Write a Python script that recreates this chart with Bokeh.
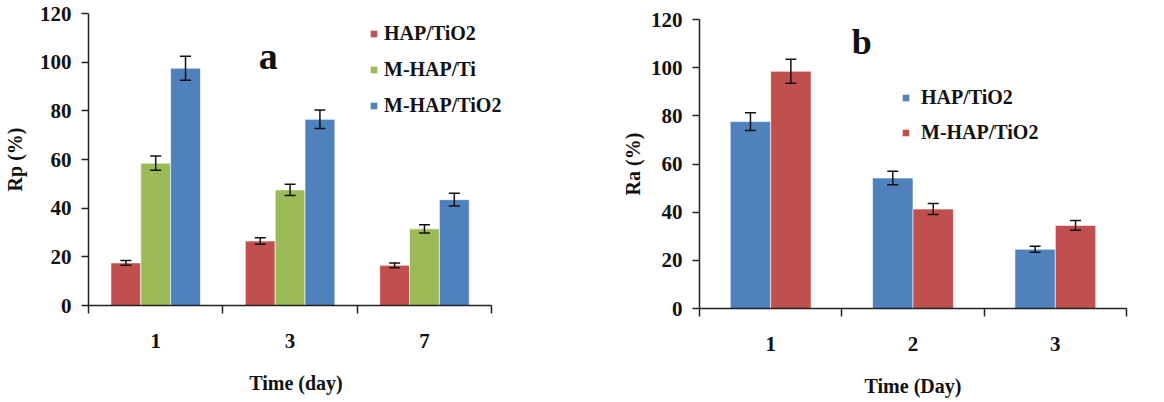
import numpy as np
from bokeh.plotting import figure
from bokeh.layouts import row, column
from bokeh.models import (Range1d, LinearAxis, FixedTicker, Whisker, TeeHead,
                          ColumnDataSource, Legend, LegendItem, Label)
from bokeh.embed import file_html
from bokeh.resources import INLINE

# ---- data: panel a ----
days_a = ["1", "3", "7"]
hap_tio2_a = [17.5, 26.5, 16.5]
hap_tio2_a_err = [1.0, 1.3, 1.0]
mhap_ti_a = [58.5, 47.5, 31.5]
mhap_ti_a_err = [2.9, 2.3, 1.7]
mhap_tio2_a = [97.5, 76.5, 43.5]
mhap_tio2_a_err = [4.9, 3.8, 2.6]

# ---- data: panel b ----
days_b = ["1", "2", "3"]
hap_tio2_b = [77.6, 54.2, 24.6]
hap_tio2_b_err = [3.7, 2.8, 1.2]
mhap_tio2_b = [98.5, 41.3, 34.5]
mhap_tio2_b_err = [5.0, 2.3, 2.0]

RED = "#C0504D"
GREEN = "#9BBB59"
BLUE = "#4F81BD"
FONT = "Liberation Serif"
TXT = "#111111"


def make_fig(width, height, bl, br, bt, bb, x_end, labels, xlabel, ylabel,
             ylab_standoff, xl_standoff, xal_standoff):
    p = figure(width=width, height=height, x_range=Range1d(0, x_end), y_range=Range1d(0, 120),
               output_backend="svg", toolbar_location=None,
               x_axis_type=None, y_axis_type=None,
               min_border_left=bl, min_border_right=br,
               min_border_top=bt, min_border_bottom=bb)
    p.outline_line_color = None
    p.background_fill_color = "white"
    centers = [i + 0.5 for i in range(len(labels))]
    xt = FixedTicker(ticks=centers, minor_ticks=[0, 1, 2, 3])
    xa = LinearAxis(ticker=xt, axis_label=xlabel, bounds=(0, 3))
    xa.major_label_overrides = {c: l for c, l in zip(centers, labels)}
    xa.major_tick_line_color = None
    xa.major_tick_out = 0
    xa.major_tick_in = 0
    xa.minor_tick_in = 0
    xa.minor_tick_out = 8
    xa.minor_tick_line_width = 1.5
    xa.minor_tick_line_color = "#222222"
    xa.axis_line_width = 1.5
    xa.axis_line_color = "#222222"
    xa.major_label_standoff = xl_standoff
    xa.axis_label_standoff = xal_standoff
    xa.major_label_text_font = FONT
    xa.major_label_text_font_style = "bold"
    xa.major_label_text_font_size = "21px"
    xa.major_label_text_color = TXT
    xa.axis_label_text_font = FONT
    xa.axis_label_text_font_style = "bold"
    xa.axis_label_text_font_size = "20px"
    xa.axis_label_text_color = TXT
    p.add_layout(xa, "below")

    ya = LinearAxis(ticker=FixedTicker(ticks=[0, 20, 40, 60, 80, 100, 120], minor_ticks=[]),
                    axis_label=ylabel)
    ya.major_tick_out = 7
    ya.major_tick_in = 0
    ya.major_tick_line_width = 1.5
    ya.major_tick_line_color = "#222222"
    ya.axis_line_width = 1.5
    ya.axis_line_color = "#222222"
    ya.major_label_standoff = 10
    ya.axis_label_standoff = ylab_standoff
    ya.major_label_text_font = FONT
    ya.major_label_text_font_style = "bold"
    ya.major_label_text_font_size = "21px"
    ya.major_label_text_color = TXT
    ya.axis_label_text_font = FONT
    ya.axis_label_text_font_style = "bold"
    ya.axis_label_text_font_size = "20px"
    ya.axis_label_text_color = TXT
    p.add_layout(ya, "left")
    return p


def add_series(p, vals, errs, offset, width, color):
    x = [i + 0.5 + offset for i in range(len(vals))]
    src = ColumnDataSource(dict(x=x, top=vals,
                                upper=[v + e for v, e in zip(vals, errs)],
                                lower=[v - e for v, e in zip(vals, errs)]))
    r = p.vbar(x="x", top="top", bottom=0, width=width, source=src,
               fill_color=color, line_color="white", line_alpha=0.6, line_width=1)
    w = Whisker(base="x", upper="upper", lower="lower", source=src,
                line_width=1.5, line_color="#111111", level="annotation",
                upper_head=TeeHead(size=11, line_width=1.5, line_color="#111111"),
                lower_head=TeeHead(size=11, line_width=1.5, line_color="#111111"))
    p.add_layout(w)
    return r


def style_legend(lg, standoff, spacing):
    lg.border_line_color = None
    lg.background_fill_alpha = 0
    lg.padding = 0
    lg.margin = 0
    lg.spacing = spacing
    lg.glyph_width = 9
    lg.glyph_height = 9
    lg.label_height = 20
    lg.label_standoff = standoff
    lg.label_text_font = FONT
    lg.label_text_font_style = "bold"
    lg.label_text_font_size = "20px"
    lg.label_text_color = TXT


# ---- panel a ----  frame: 421 px wide (axis drawn 0..3 over 409 px)
pa = make_fig(585, 396, 82, 82, 13, 89, 3 * 421 / 409, days_a, "Time (day)", "Rp (%)", 11, 20, 21)
bw_a = 0.222
ra1 = add_series(pa, hap_tio2_a, hap_tio2_a_err, -bw_a, bw_a, RED)
ra2 = add_series(pa, mhap_ti_a, mhap_ti_a_err, 0.0, bw_a, GREEN)
ra3 = add_series(pa, mhap_tio2_a, mhap_tio2_a_err, bw_a, bw_a, BLUE)
lga = Legend(items=[LegendItem(label="HAP/TiO2", renderers=[ra1]),
                    LegendItem(label="M-HAP/Ti", renderers=[ra2]),
                    LegendItem(label="M-HAP/TiO2", renderers=[ra3])],
             location=(281, 188))
style_legend(lga, 6, 13)
pa.add_layout(lga)
pa.add_layout(Label(x=1.337, y=102.5, text="a", text_font=FONT, text_font_style="bold",
                    text_font_size="38px", text_align="center", text_baseline="alphabetic",
                    text_color=TXT))

# ---- panel b ----
pb = make_fig(563, 399, 114, 22, 19, 88, 3, days_b, "Time (Day)", "Ra (%)", 4, 20, 21)
bw_b = 0.284
rb1 = add_series(pb, hap_tio2_b, hap_tio2_b_err, -bw_b / 2, bw_b, BLUE)
rb2 = add_series(pb, mhap_tio2_b, mhap_tio2_b_err, bw_b / 2, bw_b, RED)
lgb = Legend(items=[LegendItem(label="HAP/TiO2", renderers=[rb1]),
                    LegendItem(label="M-HAP/TiO2", renderers=[rb2])],
             location=(202, 164))
style_legend(lgb, 11, 12)
pb.add_layout(lgb)
pb.add_layout(Label(x=1.14, y=110.8, text="b", text_font=FONT, text_font_style="bold",
                    text_font_size="36px", text_align="center", text_baseline="alphabetic",
                    text_color=TXT))

layout = row(column(pa), column(pb))
open("out.html", "w").write(file_html(layout, INLINE))
